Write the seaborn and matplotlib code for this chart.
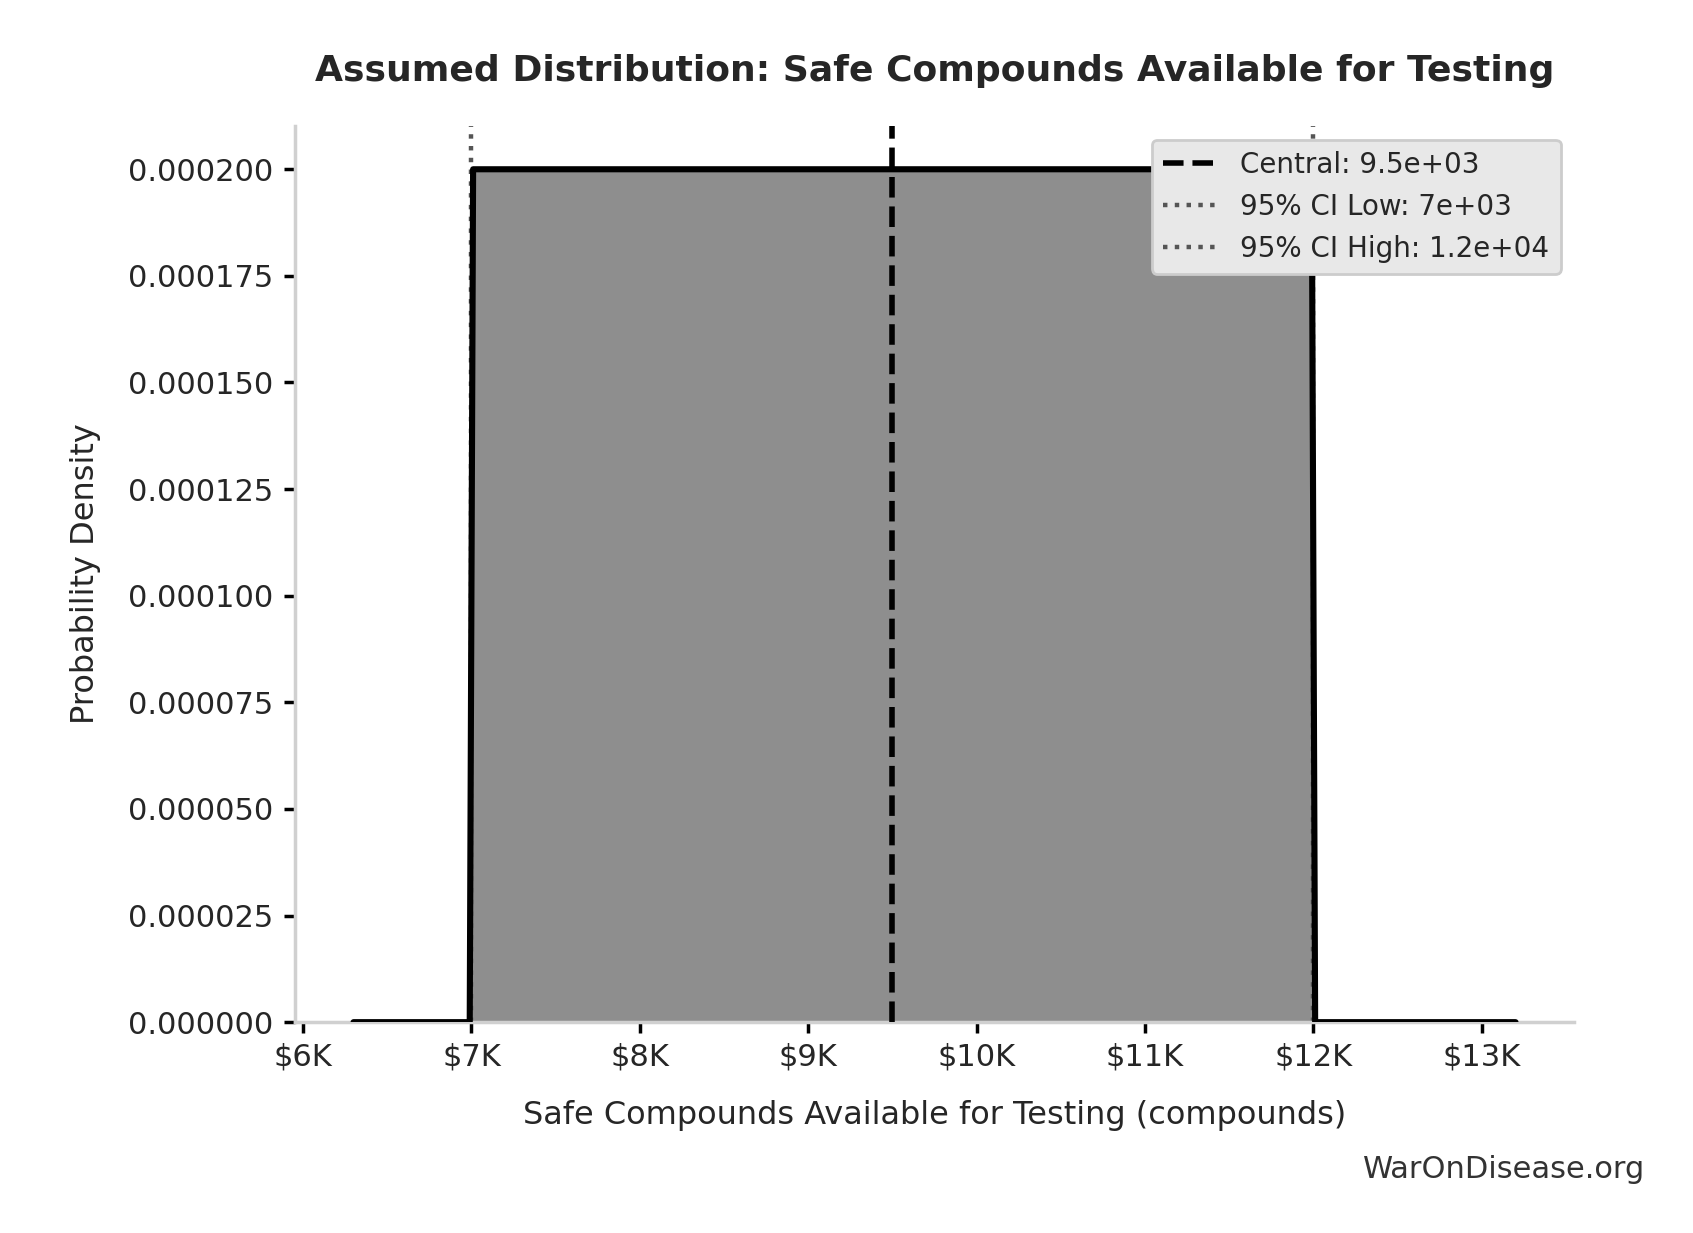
import matplotlib
matplotlib.use("Agg")
import matplotlib.pyplot as plt
import seaborn as sns
import pandas as pd
from matplotlib.ticker import FuncFormatter

x_vals = [6300, 6990, 7010, 11990, 12010, 13200]
density = [0.0, 0.0, 0.0002, 0.0002, 0.0, 0.0]
central = 9500
ci_low = 7000
ci_high = 12000

sns.set_theme(style="white")
plt.rcParams['font.family'] = ['DejaVu Sans']

fig = plt.figure(figsize=(1693/200, 1233/200), dpi=200)
ax = fig.add_axes([0.174, 0.171, 0.756, 0.727])
df = pd.DataFrame({"x": x_vals, "y": density})
ax.fill_between(df.x, df.y, color="#8e8e8e", zorder=1)
sns.lineplot(data=df, x="x", y="y", sort=False, color="black", lw=2.2, ax=ax, zorder=3)
ax.axvline(central, color="black", ls="--", lw=2, label=f"Central: {central:.2g}", zorder=4)
ax.axvline(ci_low, color="#555555", ls=":", lw=1.6, label=f"95% CI Low: {ci_low:.2g}", zorder=2)
ax.axvline(ci_high, color="#555555", ls=":", lw=1.6, label=f"95% CI High: {ci_high:.2g}", zorder=2)

ax.set_xlim(5950, 13550)
ax.set_ylim(0, 0.0002102)
ax.set_xticks(range(6000, 14000, 1000))
ax.xaxis.set_major_formatter(FuncFormatter(lambda v, p: f"${v/1000:.0f}K"))
ax.yaxis.set_major_formatter(FuncFormatter(lambda v, p: f"{v:.6f}"))
ax.tick_params(axis="both", labelsize=11, length=4, color="black", left=True, bottom=True)
for s in ["top", "right"]:
    ax.spines[s].set_visible(False)
for s in ["left", "bottom"]:
    ax.spines[s].set_color("#d0d0d0")
ax.set_xlabel("Safe Compounds Available for Testing (compounds)", fontsize=11.5, labelpad=10)
ax.set_ylabel("Probability Density", fontsize=11.5, labelpad=10)
ax.set_title("Assumed Distribution: Safe Compounds Available for Testing", fontsize=13, fontweight="bold", pad=16, x=0.5)
leg = ax.legend(loc="upper right", fontsize=10, frameon=True, facecolor="#e8e8e8", edgecolor="#cccccc", framealpha=1)
fig.text(0.972, 0.04, "WarOnDisease.org", ha="right", va="bottom", fontsize=11, color="#333333")
fig.savefig("out.png", dpi=200)
